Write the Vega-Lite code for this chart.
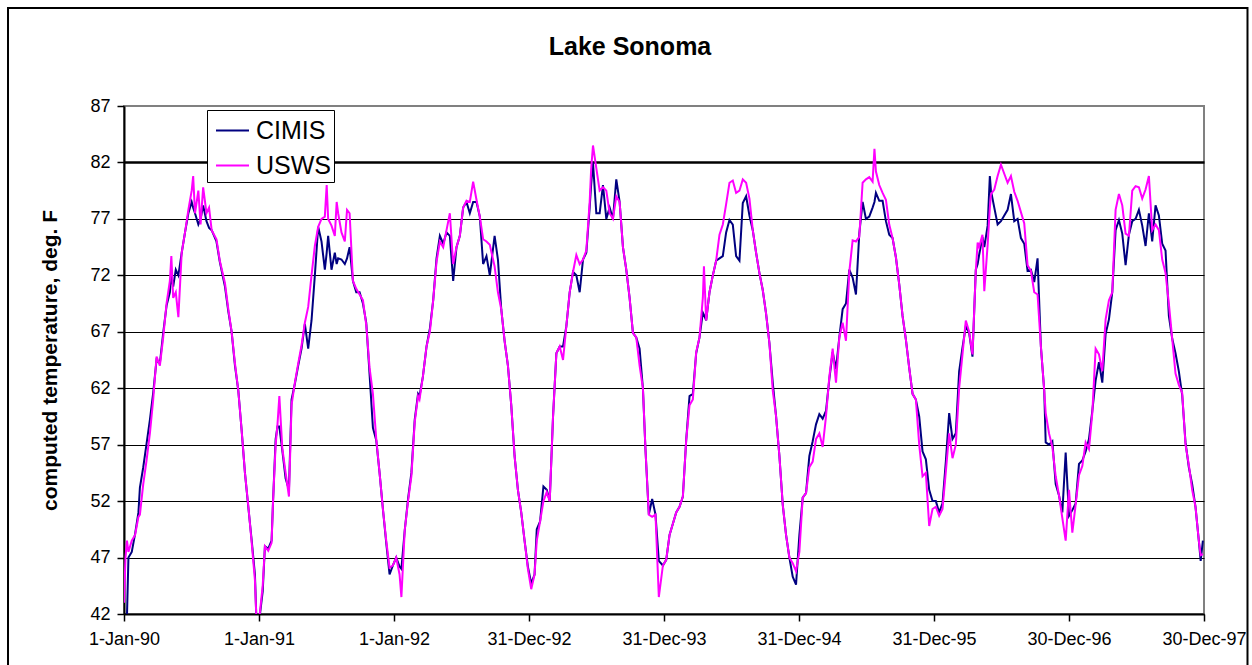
{
  "$schema": "https://vega.github.io/schema/vega-lite/v6.json",
  "width": 1080,
  "height": 508,
  "autosize": {"type": "none"},
  "padding": {"left": 124, "top": 106, "right": 48, "bottom": 51},
  "background": "white",
  "config": {
    "view": {"stroke": "#808080", "strokeWidth": 2},
    "font": "Liberation Sans"
  },
  "title": {
    "text": "Lake Sonoma",
    "font": "Liberation Sans",
    "fontSize": 25,
    "fontWeight": "bold",
    "color": "black",
    "anchor": "middle",
    "frame": "group",
    "dx": -34,
    "offset": -53
  },
  "resolve": {"axis": {"x": "independent", "y": "independent"}},
  "data": {
    "values": [
      {"day": 0, "CIMIS": 41, "USWS": 43},
      {"day": 4, "CIMIS": 41.5, "USWS": 47},
      {"day": 8, "CIMIS": 41.8, "USWS": 48.5},
      {"day": 12, "CIMIS": 47, "USWS": 47.5},
      {"day": 21, "CIMIS": 47.5, "USWS": 48.5},
      {"day": 30, "CIMIS": 49.1, "USWS": 49},
      {"day": 39, "CIMIS": 51, "USWS": 50.6},
      {"day": 43, "CIMIS": 53.2, "USWS": 50.8},
      {"day": 52, "CIMIS": 55, "USWS": 53.5},
      {"day": 61, "CIMIS": 57.1, "USWS": 55.6},
      {"day": 70, "CIMIS": 59.2, "USWS": 58},
      {"day": 79, "CIMIS": 61.6, "USWS": 61},
      {"day": 88, "CIMIS": 64.5, "USWS": 64.8},
      {"day": 97, "CIMIS": 64.2, "USWS": 64},
      {"day": 106, "CIMIS": 66.9, "USWS": 66.5},
      {"day": 115, "CIMIS": 69.3, "USWS": 69.5},
      {"day": 124, "CIMIS": 70.5, "USWS": 71.5},
      {"day": 128, "CIMIS": 72, "USWS": 73.7},
      {"day": 133, "CIMIS": 71, "USWS": 70},
      {"day": 140, "CIMIS": 72.5, "USWS": 70.5},
      {"day": 147, "CIMIS": 72, "USWS": 68.3},
      {"day": 156, "CIMIS": 74, "USWS": 74},
      {"day": 165, "CIMIS": 75.8, "USWS": 75.8},
      {"day": 174, "CIMIS": 77.5, "USWS": 77.8},
      {"day": 183, "CIMIS": 78.5, "USWS": 79.5},
      {"day": 187, "CIMIS": 78, "USWS": 80.8},
      {"day": 192, "CIMIS": 77.5, "USWS": 77.5},
      {"day": 201, "CIMIS": 76.5, "USWS": 79.5},
      {"day": 207, "CIMIS": 77, "USWS": 76.5},
      {"day": 214, "CIMIS": 78.2, "USWS": 79.8},
      {"day": 223, "CIMIS": 76.8, "USWS": 77.5},
      {"day": 230, "CIMIS": 76.2, "USWS": 78},
      {"day": 237, "CIMIS": 76, "USWS": 76},
      {"day": 250, "CIMIS": 75, "USWS": 75.2},
      {"day": 259, "CIMIS": 73.2, "USWS": 73.3},
      {"day": 273, "CIMIS": 71, "USWS": 71.3},
      {"day": 282, "CIMIS": 68.8, "USWS": 69},
      {"day": 291, "CIMIS": 67, "USWS": 67},
      {"day": 300, "CIMIS": 64, "USWS": 64.2},
      {"day": 309, "CIMIS": 61.8, "USWS": 61.8},
      {"day": 318, "CIMIS": 58.3, "USWS": 58.3},
      {"day": 327, "CIMIS": 54.5, "USWS": 54.5},
      {"day": 336, "CIMIS": 51.5, "USWS": 51.6},
      {"day": 345, "CIMIS": 48.6, "USWS": 48.4},
      {"day": 354, "CIMIS": 45.5, "USWS": 45},
      {"day": 358, "CIMIS": 41.5, "USWS": 41.5},
      {"day": 367, "CIMIS": 41.8, "USWS": 42},
      {"day": 375, "CIMIS": 44, "USWS": 44.5},
      {"day": 381, "CIMIS": 48, "USWS": 48},
      {"day": 390, "CIMIS": 47.8, "USWS": 47.6},
      {"day": 399, "CIMIS": 48.5, "USWS": 48.3},
      {"day": 403, "CIMIS": 52, "USWS": 52},
      {"day": 410, "CIMIS": 57.5, "USWS": 57},
      {"day": 415, "CIMIS": 58.6, "USWS": 58.8},
      {"day": 420, "CIMIS": 58.6, "USWS": 61.3},
      {"day": 428, "CIMIS": 56.5, "USWS": 56.7},
      {"day": 437, "CIMIS": 54, "USWS": 54.5},
      {"day": 446, "CIMIS": 53, "USWS": 52.4},
      {"day": 453, "CIMIS": 61, "USWS": 60.5},
      {"day": 462, "CIMIS": 62.4, "USWS": 62.5},
      {"day": 471, "CIMIS": 64, "USWS": 64.2},
      {"day": 480, "CIMIS": 65.5, "USWS": 65.8},
      {"day": 489, "CIMIS": 67.7, "USWS": 67.8},
      {"day": 498, "CIMIS": 65.5, "USWS": 69.2},
      {"day": 507, "CIMIS": 68, "USWS": 72},
      {"day": 516, "CIMIS": 72, "USWS": 74.6},
      {"day": 525, "CIMIS": 76.3, "USWS": 76.3},
      {"day": 534, "CIMIS": 75, "USWS": 77},
      {"day": 543, "CIMIS": 72.5, "USWS": 77.2},
      {"day": 548, "CIMIS": 74, "USWS": 80},
      {"day": 552, "CIMIS": 75.5, "USWS": 77},
      {"day": 561, "CIMIS": 72.5, "USWS": 76.4},
      {"day": 570, "CIMIS": 74, "USWS": 75.5},
      {"day": 575, "CIMIS": 73, "USWS": 78.5},
      {"day": 579, "CIMIS": 73.5, "USWS": 77.5},
      {"day": 588, "CIMIS": 73.4, "USWS": 75.8},
      {"day": 597, "CIMIS": 73, "USWS": 75},
      {"day": 603, "CIMIS": 73.5, "USWS": 77.8},
      {"day": 610, "CIMIS": 74.5, "USWS": 77.5},
      {"day": 619, "CIMIS": 71.5, "USWS": 71.5},
      {"day": 628, "CIMIS": 70.5, "USWS": 70.8},
      {"day": 637, "CIMIS": 70.5, "USWS": 70.3},
      {"day": 646, "CIMIS": 69.5, "USWS": 69.8},
      {"day": 655, "CIMIS": 67.8, "USWS": 67.6},
      {"day": 664, "CIMIS": 63.2, "USWS": 63.8},
      {"day": 673, "CIMIS": 58.5, "USWS": 61.5},
      {"day": 682, "CIMIS": 57.4, "USWS": 57.5},
      {"day": 691, "CIMIS": 54.5, "USWS": 54.5},
      {"day": 700, "CIMIS": 51.3, "USWS": 51.3},
      {"day": 709, "CIMIS": 48.3, "USWS": 48.5},
      {"day": 718, "CIMIS": 45.5, "USWS": 46.1},
      {"day": 727, "CIMIS": 46.3, "USWS": 46.3},
      {"day": 736, "CIMIS": 47, "USWS": 47},
      {"day": 745, "CIMIS": 46.2, "USWS": 45.5},
      {"day": 750, "CIMIS": 46, "USWS": 43.5},
      {"day": 759, "CIMIS": 49.4, "USWS": 49.4},
      {"day": 768, "CIMIS": 52.2, "USWS": 52},
      {"day": 777, "CIMIS": 54.5, "USWS": 54.2},
      {"day": 786, "CIMIS": 59.2, "USWS": 59},
      {"day": 795, "CIMIS": 61.5, "USWS": 61.3},
      {"day": 799, "CIMIS": 61.3, "USWS": 61},
      {"day": 808, "CIMIS": 63, "USWS": 63},
      {"day": 818, "CIMIS": 65.7, "USWS": 65.7},
      {"day": 827, "CIMIS": 67.3, "USWS": 67},
      {"day": 836, "CIMIS": 69.8, "USWS": 69.8},
      {"day": 845, "CIMIS": 73.5, "USWS": 73.2},
      {"day": 854, "CIMIS": 75.5, "USWS": 75},
      {"day": 863, "CIMIS": 74.8, "USWS": 74.5},
      {"day": 872, "CIMIS": 75.8, "USWS": 76},
      {"day": 881, "CIMIS": 75.5, "USWS": 77.5},
      {"day": 890, "CIMIS": 71.5, "USWS": 73},
      {"day": 899, "CIMIS": 74.5, "USWS": 74.5},
      {"day": 908, "CIMIS": 75.5, "USWS": 75.5},
      {"day": 917, "CIMIS": 78, "USWS": 78},
      {"day": 926, "CIMIS": 78.5, "USWS": 78.6},
      {"day": 935, "CIMIS": 77.5, "USWS": 78.5},
      {"day": 944, "CIMIS": 78.5, "USWS": 80.3},
      {"day": 953, "CIMIS": 78.5, "USWS": 78.7},
      {"day": 962, "CIMIS": 77.2, "USWS": 77.2},
      {"day": 971, "CIMIS": 73, "USWS": 75.2},
      {"day": 980, "CIMIS": 73.7, "USWS": 75},
      {"day": 989, "CIMIS": 72, "USWS": 74.7},
      {"day": 1002, "CIMIS": 75.5, "USWS": 72.8},
      {"day": 1011, "CIMIS": 73.4, "USWS": 70.5},
      {"day": 1020, "CIMIS": 69, "USWS": 69},
      {"day": 1029, "CIMIS": 66.2, "USWS": 66.2},
      {"day": 1038, "CIMIS": 64, "USWS": 64},
      {"day": 1047, "CIMIS": 60.5, "USWS": 60.5},
      {"day": 1056, "CIMIS": 56, "USWS": 56},
      {"day": 1065, "CIMIS": 53, "USWS": 53},
      {"day": 1074, "CIMIS": 51, "USWS": 51},
      {"day": 1083, "CIMIS": 48.5, "USWS": 48.5},
      {"day": 1092, "CIMIS": 46.2, "USWS": 46},
      {"day": 1101, "CIMIS": 44.7, "USWS": 44.2},
      {"day": 1110, "CIMIS": 45.5, "USWS": 45.5},
      {"day": 1116, "CIMIS": 49.5, "USWS": 48.5},
      {"day": 1125, "CIMIS": 50.2, "USWS": 50.2},
      {"day": 1134, "CIMIS": 53.3, "USWS": 52},
      {"day": 1143, "CIMIS": 53, "USWS": 52.8},
      {"day": 1151, "CIMIS": 52, "USWS": 52},
      {"day": 1160, "CIMIS": 59.5, "USWS": 59.5},
      {"day": 1169, "CIMIS": 65.1, "USWS": 65.1},
      {"day": 1178, "CIMIS": 65.7, "USWS": 65.7},
      {"day": 1187, "CIMIS": 65.7, "USWS": 64.5},
      {"day": 1196, "CIMIS": 67.5, "USWS": 67.5},
      {"day": 1205, "CIMIS": 70.5, "USWS": 70.5},
      {"day": 1214, "CIMIS": 72.3, "USWS": 72.3},
      {"day": 1223, "CIMIS": 72, "USWS": 73.8},
      {"day": 1232, "CIMIS": 70.5, "USWS": 73},
      {"day": 1241, "CIMIS": 73.4, "USWS": 73.4},
      {"day": 1250, "CIMIS": 74, "USWS": 74.2},
      {"day": 1259, "CIMIS": 78, "USWS": 78.5},
      {"day": 1263, "CIMIS": 80, "USWS": 81.4},
      {"day": 1268, "CIMIS": 82, "USWS": 83.5},
      {"day": 1277, "CIMIS": 77.5, "USWS": 81.5},
      {"day": 1286, "CIMIS": 77.5, "USWS": 79.5},
      {"day": 1295, "CIMIS": 80, "USWS": 79.8},
      {"day": 1304, "CIMIS": 77, "USWS": 79.5},
      {"day": 1313, "CIMIS": 78, "USWS": 77.5},
      {"day": 1322, "CIMIS": 77, "USWS": 77},
      {"day": 1331, "CIMIS": 80.5, "USWS": 79},
      {"day": 1340, "CIMIS": 78.5, "USWS": 78.5},
      {"day": 1349, "CIMIS": 74.5, "USWS": 74.5},
      {"day": 1358, "CIMIS": 72.5, "USWS": 72.5},
      {"day": 1367, "CIMIS": 70, "USWS": 70},
      {"day": 1376, "CIMIS": 66.9, "USWS": 66.9},
      {"day": 1385, "CIMIS": 66.5, "USWS": 66.5},
      {"day": 1394, "CIMIS": 65.5, "USWS": 64},
      {"day": 1403, "CIMIS": 62, "USWS": 62},
      {"day": 1410, "CIMIS": 56.5, "USWS": 56.5},
      {"day": 1419, "CIMIS": 50.8, "USWS": 50.8},
      {"day": 1428, "CIMIS": 52.2, "USWS": 50.6},
      {"day": 1437, "CIMIS": 50.8, "USWS": 50.8},
      {"day": 1446, "CIMIS": 46.7, "USWS": 43.5},
      {"day": 1457, "CIMIS": 46.3, "USWS": 46.3},
      {"day": 1466, "CIMIS": 46.8, "USWS": 46.8},
      {"day": 1475, "CIMIS": 49, "USWS": 49},
      {"day": 1484, "CIMIS": 50, "USWS": 50},
      {"day": 1493, "CIMIS": 51, "USWS": 51},
      {"day": 1502, "CIMIS": 51.5, "USWS": 51.5},
      {"day": 1511, "CIMIS": 52.4, "USWS": 52.4},
      {"day": 1520, "CIMIS": 57.4, "USWS": 57.4},
      {"day": 1529, "CIMIS": 61.3, "USWS": 60.5},
      {"day": 1538, "CIMIS": 61.5, "USWS": 61},
      {"day": 1547, "CIMIS": 65.1, "USWS": 65.2},
      {"day": 1556, "CIMIS": 66.5, "USWS": 66.5},
      {"day": 1565, "CIMIS": 68.7, "USWS": 70},
      {"day": 1568, "CIMIS": 68.5, "USWS": 72.8},
      {"day": 1574, "CIMIS": 68, "USWS": 68},
      {"day": 1583, "CIMIS": 70.5, "USWS": 70.5},
      {"day": 1592, "CIMIS": 72, "USWS": 72},
      {"day": 1601, "CIMIS": 73.3, "USWS": 73.3},
      {"day": 1610, "CIMIS": 73.5, "USWS": 75.6},
      {"day": 1619, "CIMIS": 73.7, "USWS": 76.5},
      {"day": 1628, "CIMIS": 75.8, "USWS": 78.3},
      {"day": 1637, "CIMIS": 76.9, "USWS": 80.2},
      {"day": 1646, "CIMIS": 76.5, "USWS": 80.4},
      {"day": 1655, "CIMIS": 73.7, "USWS": 79.3},
      {"day": 1664, "CIMIS": 73.3, "USWS": 79.5},
      {"day": 1673, "CIMIS": 78.4, "USWS": 80.5},
      {"day": 1682, "CIMIS": 79, "USWS": 80.2},
      {"day": 1691, "CIMIS": 77.3, "USWS": 78.8},
      {"day": 1700, "CIMIS": 76, "USWS": 76},
      {"day": 1709, "CIMIS": 74, "USWS": 74},
      {"day": 1718, "CIMIS": 72.2, "USWS": 72.2},
      {"day": 1727, "CIMIS": 70.7, "USWS": 70.7},
      {"day": 1736, "CIMIS": 68.6, "USWS": 68.6},
      {"day": 1745, "CIMIS": 66, "USWS": 66},
      {"day": 1754, "CIMIS": 62.5, "USWS": 61.8},
      {"day": 1763, "CIMIS": 59.5, "USWS": 59.5},
      {"day": 1772, "CIMIS": 56, "USWS": 56},
      {"day": 1781, "CIMIS": 51.7, "USWS": 51.7},
      {"day": 1790, "CIMIS": 49, "USWS": 49},
      {"day": 1799, "CIMIS": 47, "USWS": 47},
      {"day": 1808, "CIMIS": 45.3, "USWS": 46.5},
      {"day": 1817, "CIMIS": 44.6, "USWS": 45.8},
      {"day": 1826, "CIMIS": 49, "USWS": 47.5},
      {"day": 1835, "CIMIS": 52.3, "USWS": 52.3},
      {"day": 1844, "CIMIS": 52.7, "USWS": 52.7},
      {"day": 1853, "CIMIS": 56, "USWS": 55},
      {"day": 1862, "CIMIS": 57.3, "USWS": 55.5},
      {"day": 1871, "CIMIS": 58.8, "USWS": 57.5},
      {"day": 1880, "CIMIS": 59.7, "USWS": 58},
      {"day": 1889, "CIMIS": 59.3, "USWS": 56.8},
      {"day": 1898, "CIMIS": 60, "USWS": 59.5},
      {"day": 1907, "CIMIS": 62.8, "USWS": 63},
      {"day": 1916, "CIMIS": 65.2, "USWS": 65.5},
      {"day": 1925, "CIMIS": 63.7, "USWS": 62.5},
      {"day": 1934, "CIMIS": 66.5, "USWS": 66.5},
      {"day": 1943, "CIMIS": 69, "USWS": 67.8},
      {"day": 1952, "CIMIS": 69.5, "USWS": 66.2},
      {"day": 1961, "CIMIS": 72.5, "USWS": 72.3},
      {"day": 1970, "CIMIS": 71.8, "USWS": 75.1},
      {"day": 1979, "CIMIS": 70.3, "USWS": 75},
      {"day": 1988, "CIMIS": 75.7, "USWS": 75.4},
      {"day": 1997, "CIMIS": 78.5, "USWS": 80.2},
      {"day": 2006, "CIMIS": 77, "USWS": 80.5},
      {"day": 2015, "CIMIS": 77.2, "USWS": 80.7},
      {"day": 2024, "CIMIS": 78, "USWS": 80.3},
      {"day": 2029, "CIMIS": 78.5, "USWS": 83.2},
      {"day": 2033, "CIMIS": 79.3, "USWS": 81.2},
      {"day": 2042, "CIMIS": 78.6, "USWS": 80},
      {"day": 2051, "CIMIS": 78.6, "USWS": 79.3},
      {"day": 2060, "CIMIS": 76.8, "USWS": 78.7},
      {"day": 2069, "CIMIS": 75.6, "USWS": 76.5},
      {"day": 2078, "CIMIS": 75.3, "USWS": 75.3},
      {"day": 2087, "CIMIS": 73.6, "USWS": 73.6},
      {"day": 2096, "CIMIS": 71.2, "USWS": 71.2},
      {"day": 2105, "CIMIS": 68.4, "USWS": 68.4},
      {"day": 2114, "CIMIS": 66.3, "USWS": 66.3},
      {"day": 2123, "CIMIS": 63.8, "USWS": 63.8},
      {"day": 2132, "CIMIS": 61.5, "USWS": 61.5},
      {"day": 2141, "CIMIS": 61, "USWS": 61},
      {"day": 2150, "CIMIS": 59.5, "USWS": 57},
      {"day": 2159, "CIMIS": 56.4, "USWS": 54.2},
      {"day": 2168, "CIMIS": 55.7, "USWS": 54.5},
      {"day": 2177, "CIMIS": 53, "USWS": 49.8},
      {"day": 2186, "CIMIS": 52, "USWS": 51.3},
      {"day": 2195, "CIMIS": 52, "USWS": 51.5},
      {"day": 2204, "CIMIS": 51, "USWS": 50.7},
      {"day": 2213, "CIMIS": 51.8, "USWS": 51.3},
      {"day": 2222, "CIMIS": 55.5, "USWS": 54.6},
      {"day": 2231, "CIMIS": 59.8, "USWS": 58},
      {"day": 2240, "CIMIS": 57.5, "USWS": 55.8},
      {"day": 2249, "CIMIS": 58, "USWS": 57},
      {"day": 2258, "CIMIS": 63.5, "USWS": 62},
      {"day": 2267, "CIMIS": 65.6, "USWS": 65},
      {"day": 2276, "CIMIS": 67.5, "USWS": 68},
      {"day": 2285, "CIMIS": 66.9, "USWS": 67},
      {"day": 2294, "CIMIS": 64.8, "USWS": 65},
      {"day": 2303, "CIMIS": 72.5, "USWS": 72.4},
      {"day": 2308, "CIMIS": 73, "USWS": 74.9},
      {"day": 2312, "CIMIS": 73.8, "USWS": 74.5},
      {"day": 2321, "CIMIS": 75.4, "USWS": 75.6},
      {"day": 2326, "CIMIS": 74.5, "USWS": 70.6},
      {"day": 2335, "CIMIS": 76.4, "USWS": 74.7},
      {"day": 2341, "CIMIS": 80.8, "USWS": 78},
      {"day": 2344, "CIMIS": 79.5, "USWS": 79.2},
      {"day": 2353, "CIMIS": 78, "USWS": 79.6},
      {"day": 2362, "CIMIS": 76.5, "USWS": 80.8},
      {"day": 2371, "CIMIS": 76.8, "USWS": 81.8},
      {"day": 2380, "CIMIS": 77.3, "USWS": 81},
      {"day": 2389, "CIMIS": 77.8, "USWS": 80.2},
      {"day": 2398, "CIMIS": 79.2, "USWS": 80.8},
      {"day": 2407, "CIMIS": 76.8, "USWS": 79.4},
      {"day": 2416, "CIMIS": 77, "USWS": 78.6},
      {"day": 2425, "CIMIS": 75.3, "USWS": 77.6},
      {"day": 2434, "CIMIS": 74.8, "USWS": 76.6},
      {"day": 2443, "CIMIS": 72.4, "USWS": 72.9},
      {"day": 2452, "CIMIS": 72.5, "USWS": 72.4},
      {"day": 2461, "CIMIS": 71.4, "USWS": 70.5},
      {"day": 2470, "CIMIS": 73.5, "USWS": 70.3},
      {"day": 2479, "CIMIS": 65.7, "USWS": 65.7},
      {"day": 2488, "CIMIS": 61.8, "USWS": 61.8},
      {"day": 2492, "CIMIS": 57.2, "USWS": 59.8},
      {"day": 2501, "CIMIS": 57, "USWS": 58},
      {"day": 2510, "CIMIS": 57.3, "USWS": 56.8},
      {"day": 2519, "CIMIS": 53.5, "USWS": 54.2},
      {"day": 2528, "CIMIS": 52.5, "USWS": 52.5},
      {"day": 2537, "CIMIS": 51, "USWS": 50.5},
      {"day": 2546, "CIMIS": 56.3, "USWS": 48.5},
      {"day": 2555, "CIMIS": 50.7, "USWS": 53},
      {"day": 2564, "CIMIS": 51.2, "USWS": 49.2},
      {"day": 2573, "CIMIS": 51.8, "USWS": 51.7},
      {"day": 2582, "CIMIS": 55.3, "USWS": 54.3},
      {"day": 2591, "CIMIS": 55.6, "USWS": 55.1},
      {"day": 2600, "CIMIS": 56.4, "USWS": 57.2},
      {"day": 2609, "CIMIS": 57.5, "USWS": 56.6},
      {"day": 2618, "CIMIS": 60, "USWS": 59.8},
      {"day": 2627, "CIMIS": 62.7, "USWS": 65.5},
      {"day": 2636, "CIMIS": 64.3, "USWS": 65},
      {"day": 2645, "CIMIS": 62.5, "USWS": 63.5},
      {"day": 2654, "CIMIS": 66.8, "USWS": 68.1},
      {"day": 2663, "CIMIS": 68.1, "USWS": 69.8},
      {"day": 2672, "CIMIS": 70.5, "USWS": 70.5},
      {"day": 2681, "CIMIS": 76, "USWS": 77.8},
      {"day": 2690, "CIMIS": 76.9, "USWS": 79.2},
      {"day": 2699, "CIMIS": 75.7, "USWS": 78.2},
      {"day": 2708, "CIMIS": 72.9, "USWS": 75.7},
      {"day": 2717, "CIMIS": 75.6, "USWS": 75.5},
      {"day": 2726, "CIMIS": 76.8, "USWS": 79.5},
      {"day": 2735, "CIMIS": 77, "USWS": 79.9},
      {"day": 2744, "CIMIS": 77.8, "USWS": 79.8},
      {"day": 2753, "CIMIS": 76.4, "USWS": 78.8},
      {"day": 2762, "CIMIS": 74.6, "USWS": 79.6},
      {"day": 2771, "CIMIS": 77.5, "USWS": 80.8},
      {"day": 2780, "CIMIS": 75, "USWS": 76},
      {"day": 2789, "CIMIS": 78.2, "USWS": 76.5},
      {"day": 2798, "CIMIS": 77.3, "USWS": 76},
      {"day": 2807, "CIMIS": 74.8, "USWS": 73.4},
      {"day": 2816, "CIMIS": 74.2, "USWS": 72.2},
      {"day": 2825, "CIMIS": 68.4, "USWS": 69.5},
      {"day": 2834, "CIMIS": 66.4, "USWS": 66.4},
      {"day": 2843, "CIMIS": 65.1, "USWS": 63.3},
      {"day": 2852, "CIMIS": 63.5, "USWS": 62.3},
      {"day": 2861, "CIMIS": 61.4, "USWS": 61.6},
      {"day": 2870, "CIMIS": 57.2, "USWS": 57},
      {"day": 2879, "CIMIS": 55, "USWS": 55.2},
      {"day": 2888, "CIMIS": 53.5, "USWS": 53},
      {"day": 2897, "CIMIS": 51.5, "USWS": 51.5},
      {"day": 2906, "CIMIS": 48.5, "USWS": 48.5},
      {"day": 2911, "CIMIS": 46.7, "USWS": 47.2},
      {"day": 2917, "CIMIS": 48.5, "USWS": 47.3}
    ]
  },
  "layer": [
    {
      "transform": [{"fold": ["CIMIS", "USWS"], "as": ["series", "temp"]}],
      "mark": {"type": "line", "strokeWidth": 2, "clip": true},
      "encoding": {
        "x": {
          "field": "day",
          "type": "quantitative",
          "scale": {"domain": [0, 2920], "nice": false, "zero": false},
          "axis": {
            "values": [0, 365, 730, 1095, 1460, 1825, 2190, 2555, 2920],
            "labelExpr": "timeFormat(datetime(1990, 0, 1 + datum.value), '%-d-%b-%y')",
            "title": null,
            "grid": false,
            "domainColor": "black",
            "domainWidth": 2,
            "tickColor": "black",
            "tickWidth": 1.5,
            "tickSize": 7,
            "labelFont": "Liberation Sans",
            "labelFontSize": 18,
            "labelColor": "black",
            "labelPadding": 9,
            "labelFlush": false,
            "labelOverlap": false
          }
        },
        "y": {
          "field": "temp",
          "type": "quantitative",
          "scale": {"domain": [42, 87], "nice": false, "zero": false},
          "axis": {
            "values": [42, 47, 52, 57, 62, 67, 72, 77, 82, 87],
            "title": "computed temperature, deg. F",
            "titleFont": "Liberation Sans",
            "titleFontSize": 21,
            "titleFontWeight": "bold",
            "titleColor": "black",
            "titlePadding": 29,
            "grid": true,
            "gridColor": {"condition": {"test": "datum.value === 87", "value": "#808080"}, "value": "black"},
            "gridWidth": {"condition": {"test": "datum.value === 82", "value": 2.5}, "value": 1},
            "gridOpacity": 1,
            "domainColor": "black",
            "domainWidth": 2,
            "tickColor": "black",
            "tickWidth": 1.5,
            "tickSize": 7,
            "labelFont": "Liberation Sans",
            "labelFontSize": 18,
            "labelColor": "black",
            "labelPadding": 7
          }
        },
        "color": {
          "field": "series",
          "type": "nominal",
          "scale": {"domain": ["CIMIS", "USWS"], "range": ["#000080", "#FF00FF"]},
          "legend": {
            "title": null,
            "orient": "none",
            "legendX": 83,
            "legendY": 4,
            "direction": "vertical",
            "symbolType": "stroke",
            "symbolSize": 1089,
            "symbolStrokeWidth": 2,
            "symbolOffset": 5,
            "labelFont": "Liberation Sans",
            "labelFontSize": 25,
            "labelColor": "black",
            "labelOffset": 6,
            "rowPadding": 4,
            "padding": 3,
            "strokeColor": "black",
            "fillColor": "white"
          }
        }
      }
    },
    {
      "data": {"values": [{}]},
      "mark": {"type": "rect", "fillOpacity": 0, "stroke": "black", "strokeWidth": 2, "clip": false},
      "encoding": {
        "x": {"datum": -313.6, "type": "quantitative", "axis": null},
        "x2": {"datum": 3037.6},
        "y": {"datum": 95.68, "type": "quantitative", "axis": null},
        "y2": {"datum": 37.04}
      }
    }
  ]
}
